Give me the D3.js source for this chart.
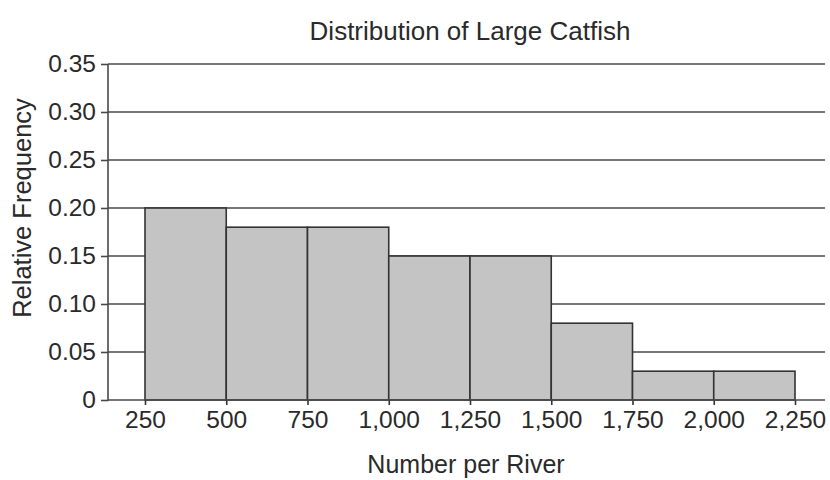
<!DOCTYPE html>
<html>
<head>
<meta charset="utf-8">
<script src="https://cdn.jsdelivr.net/npm/d3@7"></script>
<style>
  body { margin: 0; background: #fff; }
  text { font-family: "Liberation Sans", Arial, Helvetica, sans-serif; fill: #2a2a2a; }
</style>
</head>
<body>
<svg id="chart" width="830" height="480"></svg>
<script>
const binStarts = [250, 500, 750, 1000, 1250, 1500, 1750, 2000];
const binWidth = 250;
const relFreq = [0.20, 0.18, 0.18, 0.15, 0.15, 0.08, 0.03, 0.03];
const xTicks = [250, 500, 750, 1000, 1250, 1500, 1750, 2000, 2250];
const yTicks = [0, 0.05, 0.10, 0.15, 0.20, 0.25, 0.30, 0.35];
const title = "Distribution of Large Catfish";
const xTitle = "Number per River";
const yTitle = "Relative Frequency";

const svg = d3.select("#chart");
const x = d3.scaleLinear().domain([250, 2250]).range([145, 795]);
const y = d3.scaleLinear().domain([0, 0.35]).range([400, 64]);
const plotLeft = 108, plotRight = 825;

// gridlines
svg.append("g").selectAll("line").data(yTicks.filter(d => d > 0)).join("line")
  .attr("x1", plotLeft).attr("x2", plotRight)
  .attr("y1", d => y(d)).attr("y2", d => y(d))
  .attr("stroke", "#4a4a4a").attr("stroke-width", 1.6);

// bars
svg.append("g").selectAll("rect").data(binStarts).join("rect")
  .attr("x", d => x(d))
  .attr("width", d => x(d + binWidth) - x(d))
  .attr("y", (d, i) => y(relFreq[i]))
  .attr("height", (d, i) => y(0) - y(relFreq[i]))
  .attr("fill", "#c4c4c4").attr("stroke", "#333").attr("stroke-width", 1.6);

// y axis
const yAxis = d3.axisLeft(y).tickValues(yTicks)
  .tickFormat(d => d === 0 ? "0" : d3.format(".2f")(d))
  .tickSize(7).tickPadding(5);
const gy = svg.append("g").attr("transform", `translate(${plotLeft},0)`).call(yAxis);
gy.select(".domain").remove();
gy.append("line").attr("x1", 0).attr("x2", 0).attr("y1", y(0.35)).attr("y2", y(0) + 1)
  .attr("stroke", "#4a4a4a").attr("stroke-width", 1.6);
gy.selectAll(".tick line").attr("stroke", "#4a4a4a").attr("stroke-width", 1.6);
gy.selectAll(".tick text").attr("font-size", 24.5).attr("fill", "#2a2a2a")
  .style("font-family", '"Liberation Sans", Arial, sans-serif');

// x axis
const xAxis = d3.axisBottom(x).tickValues(xTicks)
  .tickFormat(d3.format(","))
  .tickSize(5).tickPadding(6);
const gx = svg.append("g").attr("transform", `translate(0,${y(0)})`).call(xAxis);
gx.select(".domain").remove();
gx.append("line").attr("x1", plotLeft).attr("x2", plotRight).attr("y1", 0).attr("y2", 0)
  .attr("stroke", "#4a4a4a").attr("stroke-width", 1.6);
gx.selectAll(".tick line").attr("stroke", "#333").attr("stroke-width", 1.6);
gx.selectAll(".tick text").attr("font-size", 24.5).attr("fill", "#2a2a2a")
  .style("font-family", '"Liberation Sans", Arial, sans-serif');

// titles
svg.append("text").attr("x", 470).attr("y", 40).attr("text-anchor", "middle")
  .attr("font-size", 26).text(title);
svg.append("text").attr("x", 466).attr("y", 473).attr("text-anchor", "middle")
  .attr("font-size", 25).text(xTitle);
svg.append("text").attr("transform", "translate(31,208) rotate(-90)")
  .attr("text-anchor", "middle").attr("font-size", 25.5).text(yTitle);
</script>
</body>
</html>
